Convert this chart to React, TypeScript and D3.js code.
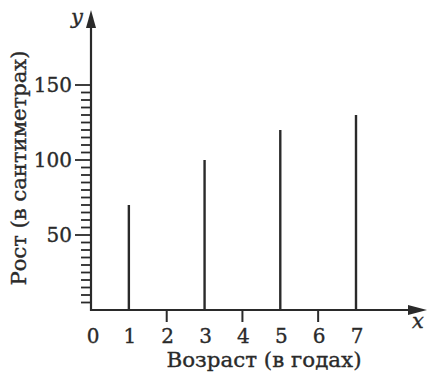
import * as d3 from 'd3';
import React from 'react';

// data
const ages = [1, 3, 5, 7];
const heights = [70, 100, 120, 130];
const xTickLabels = [0, 1, 2, 3, 4, 5, 6, 7];
const xMinorTicks = [2, 4, 6];
const yLabelTicks = [50, 100, 150];

export default function App() {
  const W = 428;
  const H = 372;
  const x = d3.scaleLinear().domain([0, 7]).range([91, 356]);
  const y = d3.scaleLinear().domain([0, 150]).range([310, 85]);
  const font = '"DejaVu Serif", serif';
  const ink = '#2a2a2a';
  const smallTicks = d3.range(5, 151, 5);
  const txt = { fontFamily: font, fill: ink, stroke: ink, strokeWidth: 0.35 };

  return (
    <svg width={W} height={H} style={{ position: 'absolute', left: 0, top: 0, background: '#fff' }}>
      {/* y-axis ticks every 5 cm */}
      {smallTicks.map(v => (
        <line key={v} x1={yLabelTicks.includes(v) ? 75 : 81} x2={x(0)} y1={y(v)} y2={y(v)} stroke={ink} strokeWidth={1.8} />
      ))}
      {/* axes with arrows */}
      <line x1={x(0)} x2={x(0)} y1={y(0) + 1} y2={22} stroke={ink} strokeWidth={2.2} />
      <path d={`M${x(0)},10 L${x(0) - 5},28 L${x(0) + 5},28 Z`} fill={ink} />
      <line x1={x(0) - 1} x2={416} y1={y(0)} y2={y(0)} stroke={ink} strokeWidth={2.2} />
      <path d={`M427,${y(0)} L408,${y(0) - 5} L408,${y(0) + 5} Z`} fill={ink} />
      {/* x ticks below the axis */}
      {xMinorTicks.map(v => (
        <line key={v} x1={x(v)} x2={x(v)} y1={y(0)} y2={y(0) + 12} stroke={ink} strokeWidth={2} />
      ))}
      {/* bars */}
      {ages.map((a, i) => (
        <line key={a} x1={x(a)} x2={x(a)} y1={y(0)} y2={y(heights[i])} stroke={ink} strokeWidth={2.4} />
      ))}
      {/* tick labels */}
      {xTickLabels.map(v => (
        <text key={v} x={x(v) + (v === 0 ? 2 : 1)} y={343} textAnchor="middle" fontSize={20} {...txt}>
          {v}
        </text>
      ))}
      {yLabelTicks.map(v => (
        <text key={v} x={72} y={y(v) + 7} textAnchor="end" fontSize={20} {...txt}>
          {v}
        </text>
      ))}
      {/* axis letters */}
      <text x={77} y={24} textAnchor="middle" fontStyle="italic" fontSize={21} {...txt}>
        y
      </text>
      <text x={418} y={328} textAnchor="middle" fontStyle="italic" fontSize={21} {...txt}>
        x
      </text>
      {/* axis titles */}
      <text x={264} y={367} textAnchor="middle" fontSize={20} textLength={195} lengthAdjust="spacingAndGlyphs" {...txt}>
        Возраст (в годах)
      </text>
      <text transform="translate(26,168) rotate(-90)" textAnchor="middle" fontSize={20} textLength={235} lengthAdjust="spacingAndGlyphs" {...txt}>
        Рост (в сантиметрах)
      </text>
    </svg>
  );
}
